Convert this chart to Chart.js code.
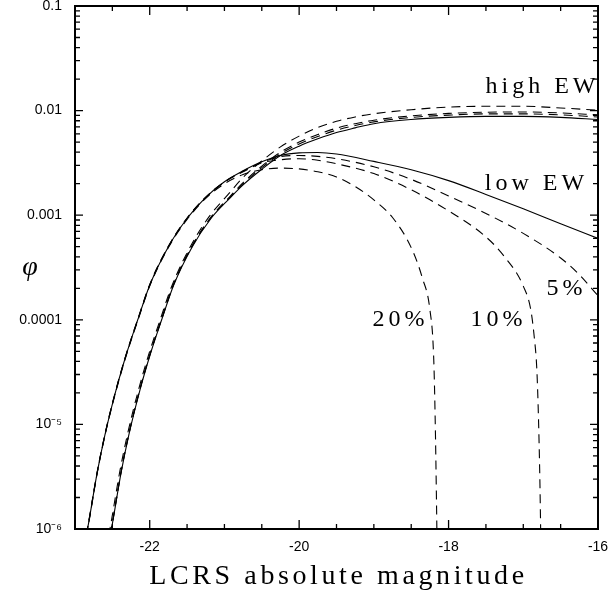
<!DOCTYPE html>
<html>
<head>
<meta charset="utf-8">
<title>LCRS luminosity function</title>
<script src="https://cdn.jsdelivr.net/npm/chart.js@4.4.0/dist/chart.umd.min.js"></script>
<style>
    html, body { margin: 0; padding: 0; background: #fff; }
    #wrap { width: 608px; height: 593px; }
</style>
</head>
<body>
<div id="wrap"><canvas id="lfChart" width="608" height="593"></canvas></div>
<script>
// --- Axis ticks ---
const xTicks = [-22, -20, -18, -16];
const yTicks = [1e-6, 1e-5, 1e-4, 1e-3, 1e-2, 1e-1];
const yTickLabels = ['10⁻⁶', '10⁻⁵', '0.0001', '0.001', '0.01', '0.1'];

// --- High EW curves (solid + three dashed) ---
const highMag = [-22.6, -22.5, -22.38, -22.28, -22.13, -21.98, -21.84, -21.68, -21.43, -21.18, -20.93, -20.75, -20.5,
                 -20.25, -20.0, -19.75, -19.5, -19.25, -19.0, -18.5, -18.0, -17.5, -17.0, -16.5, -16.0];
const highSolidPhi = [4.5e-7, 1.12e-6, 3.55e-6, 7.9e-6, 2.14e-5, 5.0e-5, 1.0e-4, 2.14e-4, 5.0e-4, 9.3e-4, 1.45e-3, 1.95e-3, 2.75e-3,
                      3.72e-3, 4.57e-3, 5.37e-3, 6.17e-3, 6.84e-3, 7.50e-3, 8.22e-3, 8.61e-3, 8.81e-3, 8.81e-3, 8.61e-3, 8.22e-3];
const highDash2Phi = [4.6e-7, 1.15e-6, 3.65e-6, 8.1e-6, 2.2e-5, 5.15e-5, 1.03e-4, 2.2e-4, 5.15e-4, 9.6e-4, 1.50e-3, 2.05e-3, 2.95e-3,
                      4.0e-3, 5.0e-3, 5.9e-3, 6.8e-3, 7.5e-3, 8.1e-3, 8.9e-3, 9.4e-3, 9.65e-3, 9.7e-3, 9.5e-3, 9.1e-3];
const highDash3Phi = [4.55e-7, 1.13e-6, 3.6e-6, 8.0e-6, 2.17e-5, 5.07e-5, 1.01e-4, 2.17e-4, 5.07e-4, 9.45e-4, 1.47e-3, 2.0e-3, 2.85e-3,
                      3.85e-3, 4.8e-3, 5.65e-3, 6.5e-3, 7.2e-3, 7.8e-3, 8.6e-3, 9.05e-3, 9.3e-3, 9.3e-3, 9.1e-3, 8.7e-3];
const highDash1Mag = [-22.62, -22.52, -22.4, -22.3, -22.15, -22.0, -21.86, -21.7, -21.45, -21.2, -20.95, -20.75, -20.5,
                      -20.25, -20.0, -19.75, -19.5, -19.25, -19.0, -18.5, -18.0, -17.5, -17.0, -16.5, -16.0];
const highDash1Phi = [4.5e-7, 1.12e-6, 3.55e-6, 7.9e-6, 2.14e-5, 5.0e-5, 1.0e-4, 2.14e-4, 5.1e-4, 9.8e-4, 1.58e-3, 2.3e-3, 3.3e-3,
                      4.5e-3, 5.7e-3, 6.9e-3, 7.9e-3, 8.7e-3, 9.33e-3, 1.02e-2, 1.08e-2, 1.10e-2, 1.10e-2, 1.06e-2, 1.01e-2];

// --- Low EW curves (solid + 5%, 10%, 20% dashed) ---
const lowSolidMag = [-22.92, -22.82, -22.7, -22.6, -22.45, -22.3, -22.16, -22.0, -21.75, -21.5, -21.25, -21.0, -20.75,
                     -20.5, -20.25, -20.0, -19.75, -19.5, -19.0, -18.5, -18.0, -17.5, -17.0, -16.5, -16.0];
const lowSolidPhi = [4.5e-7, 1.12e-6, 3.55e-6, 7.9e-6, 2.14e-5, 5.0e-5, 1.0e-4, 2.14e-4, 5.0e-4, 9.3e-4, 1.48e-3, 2.09e-3, 2.66e-3,
                     3.24e-3, 3.72e-3, 3.94e-3, 3.98e-3, 3.85e-3, 3.27e-3, 2.72e-3, 2.14e-3, 1.58e-3, 1.15e-3, 8.3e-4, 6.0e-4];
const low5Mag = [-22.92, -22.82, -22.7, -22.6, -22.45, -22.3, -22.16, -22.0, -21.75, -21.5, -21.25, -21.0, -20.75,
                 -20.5, -20.25, -20.0, -19.75, -19.5, -19.0, -18.5, -18.0, -17.5, -17.0, -16.5, -16.25, -16.0];
const low5Phi = [4.6e-7, 1.14e-6, 3.6e-6, 8.0e-6, 2.17e-5, 5.07e-5, 1.01e-4, 2.17e-4, 5.05e-4, 9.4e-4, 1.49e-3, 2.08e-3, 2.63e-3,
                 3.2e-3, 3.63e-3, 3.72e-3, 3.65e-3, 3.47e-3, 2.9e-3, 2.2e-3, 1.53e-3, 1.04e-3, 6.7e-4, 3.9e-4, 2.7e-4, 1.7e-4];
const low10Mag = [-22.92, -22.82, -22.7, -22.6, -22.45, -22.3, -22.16, -22.0, -21.75, -21.5, -21.25, -21.0, -20.75,
                  -20.5, -20.25, -20.0, -19.75, -19.5, -19.0, -18.5, -18.0, -17.5, -17.25, -17.0, -16.9, -16.85, -16.82,
                  -16.8, -16.78, -16.77, -16.76];
const low10Phi = [4.55e-7, 1.13e-6, 3.58e-6, 7.95e-6, 2.15e-5, 5.03e-5, 1.0e-4, 2.15e-4, 5.02e-4, 9.35e-4, 1.48e-3, 2.07e-3, 2.6e-3,
                  3.16e-3, 3.39e-3, 3.47e-3, 3.35e-3, 3.1e-3, 2.5e-3, 1.75e-3, 1.1e-3, 6.2e-4, 4.0e-4, 2.1e-4, 1.25e-4, 6.5e-5, 3.5e-5,
                  1.4e-5, 3.5e-6, 1.3e-6, 4.0e-7];
const low20Mag = [-22.92, -22.82, -22.7, -22.6, -22.45, -22.3, -22.16, -22.0, -21.75, -21.5, -21.25, -21.0, -20.75,
                  -20.5, -20.25, -20.0, -19.75, -19.5, -19.25, -19.0, -18.75, -18.5, -18.35, -18.25, -18.2, -18.18, -18.16, -18.15];
const low20Phi = [4.4e-7, 1.1e-6, 3.5e-6, 7.8e-6, 2.1e-5, 4.9e-5, 0.98e-4, 2.1e-4, 4.9e-4, 9.1e-4, 1.45e-3, 2.0e-3, 2.45e-3,
                  2.72e-3, 2.82e-3, 2.77e-3, 2.6e-3, 2.32e-3, 1.88e-3, 1.40e-3, 9.5e-4, 4.9e-4, 2.5e-4, 1.25e-4, 4.5e-5, 1.2e-5, 1.5e-6, 4.0e-7];

// --- Text labels inside the plot ---
const noteText = ['high EW', 'low EW', '5%', '20%', '10%'];
const noteMag = [-16.77, -16.85, -16.45, -18.67, -17.36];
const notePhi = [0.0168, 0.00199, 0.000197, 0.0001, 0.0001];

function makeCurve(mags, phis, dashed) {
    return {
        data: mags.map((m, i) => ({ x: m, y: phis[i] })),
        showLine: true,
        borderColor: '#000',
        borderWidth: 1.1,
        borderDash: dashed ? [9, 6] : [],
        pointRadius: 0,
        fill: false,
        cubicInterpolationMode: 'monotone'
    };
}

// Frame, inward ticks on all four sides, axis titles and curve labels
const framePlugin = {
    id: 'frameAndTicks',
    afterDraw(chart) {
        const ctx = chart.ctx;
        const a = chart.chartArea;
        const xs = chart.scales.x;
        const ys = chart.scales.y;
        ctx.save();
        ctx.strokeStyle = '#000';

        // tick marks
        ctx.lineWidth = 1.3;
        ctx.beginPath();
        for (let m = -23; m <= -16; m += 0.5) {
            const px = xs.getPixelForValue(m);
            const len = xTicks.includes(m) ? 9 : 5;
            ctx.moveTo(px, a.bottom); ctx.lineTo(px, a.bottom - len);
            ctx.moveTo(px, a.top); ctx.lineTo(px, a.top + len);
        }
        for (let d = -6; d <= -1; d++) {
            for (let k = 1; k <= 9; k++) {
                const v = k * Math.pow(10, d);
                if (v > 0.1 * 1.0001) break;
                const py = ys.getPixelForValue(v);
                const len = k === 1 ? 8 : 5;
                ctx.moveTo(a.left, py); ctx.lineTo(a.left + len, py);
                ctx.moveTo(a.right, py); ctx.lineTo(a.right - len, py);
            }
        }
        ctx.stroke();

        // frame
        ctx.lineWidth = 2;
        ctx.strokeRect(a.left, a.top, a.right - a.left, a.bottom - a.top);

        // curve labels
        ctx.fillStyle = '#000';
        ctx.font = '24px "Liberation Serif", serif';
        ctx.letterSpacing = '4px';
        ctx.textAlign = 'center';
        ctx.textBaseline = 'middle';
        noteText.forEach((t, i) => {
            ctx.fillText(t, xs.getPixelForValue(noteMag[i]) + 2, ys.getPixelForValue(notePhi[i]));
        });

        // x axis title
        ctx.font = '28px "Liberation Serif", serif';
        ctx.letterSpacing = '3.6px';
        ctx.fillText('LCRS absolute magnitude', (a.left + a.right) / 2 + 2, 577);

        // y axis title
        ctx.letterSpacing = '0px';
        ctx.font = 'italic 28px "Liberation Serif", serif';
        ctx.fillText('φ', 30, (a.top + a.bottom) / 2);
        ctx.restore();
    }
};

function renderChart() {
    const ctx = document.getElementById('lfChart').getContext('2d');
    new Chart(ctx, {
        type: 'scatter',
        data: {
            datasets: [
                makeCurve(highMag, highSolidPhi, false),
                makeCurve(highDash1Mag, highDash1Phi, true),
                makeCurve(highMag, highDash2Phi, true),
                makeCurve(highMag, highDash3Phi, true),
                makeCurve(lowSolidMag, lowSolidPhi, false),
                makeCurve(low5Mag, low5Phi, true),
                makeCurve(low10Mag, low10Phi, true),
                makeCurve(low20Mag, low20Phi, true)
            ]
        },
        options: {
            responsive: false,
            animation: false,
            events: [],
            layout: { padding: { left: 0, top: 6, right: 10, bottom: 0 } },
            plugins: { legend: { display: false }, tooltip: { enabled: false } },
            scales: {
                x: {
                    type: 'linear',
                    min: -23,
                    max: -16,
                    grid: { display: false, drawTicks: false },
                    border: { display: false },
                    ticks: {
                        padding: 10,
                        color: '#000',
                        maxRotation: 0,
                        autoSkip: false,
                        font: { family: '"Liberation Sans", Arial, sans-serif', size: 14 }
                    },
                    afterBuildTicks: (scale) => { scale.ticks = xTicks.map(v => ({ value: v })); },
                    afterFit: (scale) => {
                        scale.height = 64;
                        scale.paddingLeft = 0;   // keep the plot edge fixed, labels may overhang
                        scale.paddingRight = 0;
                    }
                },
                y: {
                    type: 'logarithmic',
                    min: 1e-6,
                    max: 0.1,
                    grid: { display: false, drawTicks: false },
                    border: { display: false },
                    ticks: {
                        padding: 13,
                        color: '#000',
                        autoSkip: false,
                        font: { family: '"Liberation Sans", Arial, sans-serif', size: 14 },
                        callback: function(value) {
                            const i = yTicks.findIndex(t => Math.abs(Math.log10(t) - Math.log10(value)) < 1e-6);
                            return i >= 0 ? yTickLabels[i] : '';
                        }
                    },
                    afterBuildTicks: (scale) => { scale.ticks = yTicks.map(v => ({ value: v })); },
                    afterFit: (scale) => {
                        scale.width = 75;
                        scale.paddingTop = 0;
                        scale.paddingBottom = 0;
                    }
                }
            }
        },
        plugins: [framePlugin]
    });
}

document.addEventListener('DOMContentLoaded', renderChart);
</script>
</body>
</html>
